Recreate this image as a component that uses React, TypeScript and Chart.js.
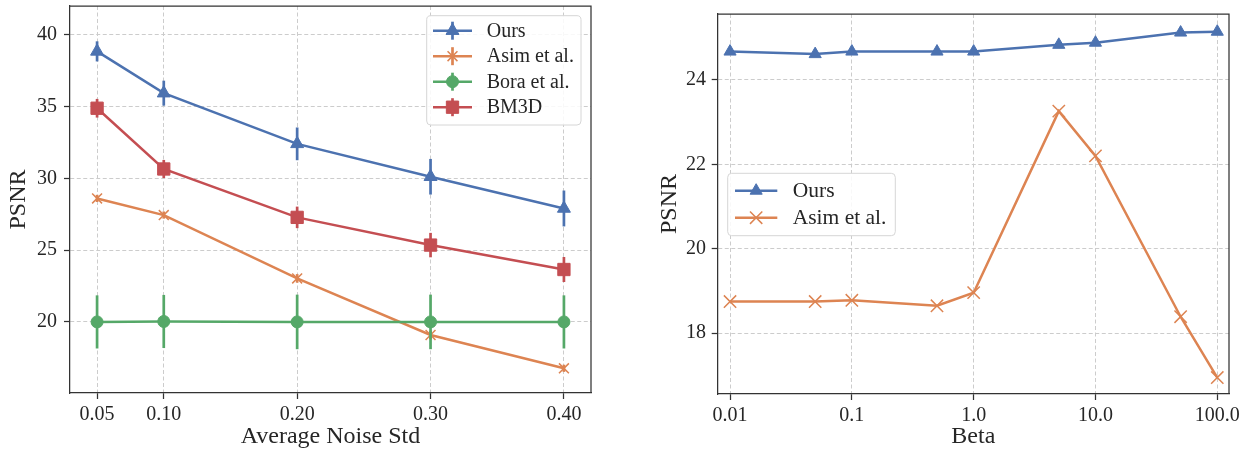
import React, { useEffect, useRef } from 'react';
import { Chart, registerables } from 'chart.js';

Chart.register(...registerables);

// ---------- Data: left panel (PSNR vs average noise std) ----------
const noiseStd = [0.05, 0.1, 0.2, 0.3, 0.4];
const oursPsnr = [38.84, 35.93, 32.4, 30.11, 27.9];
const oursErr = [0.7, 0.87, 1.14, 1.24, 1.25];
const asimPsnr = [28.6, 27.44, 23.03, 19.09, 16.77];
const asimErr = [0.25, 0.25, 0.3, 0.3, 0.25];
const boraPsnr = [20.0, 20.03, 20.0, 20.0, 20.0];
const boraErr = [1.85, 1.85, 1.9, 1.9, 1.85];
const bm3dPsnr = [34.88, 30.65, 27.28, 25.35, 23.65];
const bm3dErr = [0.65, 0.63, 0.75, 0.85, 0.87];
const noiseTicks = [0.05, 0.1, 0.2, 0.3, 0.4];
const noiseTickLabels = ['0.05', '0.10', '0.20', '0.30', '0.40'];
const psnrTicksLeft = [20, 25, 30, 35, 40];

// ---------- Data: right panel (PSNR vs beta) ----------
const betas = [0.01, 0.05, 0.1, 0.5, 1, 5, 10, 50, 100];
const oursBeta = [24.67, 24.61, 24.67, 24.67, 24.67, 24.83, 24.88, 25.12, 25.14];
const asimBeta = [18.75, 18.75, 18.78, 18.65, 18.96, 23.26, 22.2, 18.39, 16.95];
const betaTicks = [0.01, 0.1, 1, 10, 100];
const betaTickLabels = ['0.01', '0.1', '1.0', '10.0', '100.0'];
const psnrTicksRight = [18, 20, 22, 24];

const seriesNames = ['Ours', 'Asim et al.', 'Bora et al.', 'BM3D'];

// ---------- Styles ----------
const BLUE = '#4C72B0';
const ORANGE = '#DD8452';
const GREEN = '#55A868';
const RED = '#C44E52';
const TEXT = '#262626';
const SPINE = '#333333';
const GRID = '#cccccc';
const FONT = "'Liberation Serif', 'DejaVu Serif', serif";
const LINE_W = 2.5;
const ERR_W = 2.7;

Chart.defaults.font.family = FONT;
Chart.defaults.color = TEXT;

type Marker = 'triangle' | 'crossRot' | 'circle' | 'rect';

function drawMarker(ctx: CanvasRenderingContext2D, kind: Marker, x: number, y: number, r: number, color: string, lw: number) {
  ctx.save();
  ctx.fillStyle = color;
  ctx.strokeStyle = color;
  ctx.lineWidth = lw;
  ctx.beginPath();
  if (kind === 'triangle') {
    for (let k = 0; k < 3; k++) {
      const a = (k * 2 * Math.PI) / 3;
      const px = x + Math.sin(a) * r;
      const py = y - Math.cos(a) * r;
      if (k === 0) ctx.moveTo(px, py);
      else ctx.lineTo(px, py);
    }
    ctx.closePath();
    ctx.fill();
    ctx.stroke();
  } else if (kind === 'circle') {
    ctx.arc(x, y, r, 0, Math.PI * 2);
    ctx.fill();
    ctx.stroke();
  } else if (kind === 'rect') {
    const s = r * Math.SQRT1_2;
    ctx.rect(x - s, y - s, 2 * s, 2 * s);
    ctx.fill();
    ctx.stroke();
  } else {
    const o = r * Math.SQRT1_2;
    ctx.moveTo(x - o, y - o);
    ctx.lineTo(x + o, y + o);
    ctx.moveTo(x - o, y + o);
    ctx.lineTo(x + o, y - o);
    ctx.stroke();
  }
  ctx.restore();
}

// error bars drawn just before each dataset
const errorBarPlugin = {
  id: 'errorBars',
  beforeDatasetDraw(chart: any, args: any) {
    const ds = chart.data.datasets[args.index];
    const errs: number[] | undefined = ds.errors;
    if (!errs) return;
    const { ctx, chartArea } = chart;
    const xs = chart.scales.x;
    const ys = chart.scales.y;
    ctx.save();
    ctx.beginPath();
    ctx.rect(chartArea.left, chartArea.top, chartArea.right - chartArea.left, chartArea.bottom - chartArea.top);
    ctx.clip();
    ctx.strokeStyle = ds.borderColor;
    ctx.lineWidth = ERR_W;
    ds.data.forEach((p: any, i: number) => {
      const px = xs.getPixelForValue(p.x);
      ctx.beginPath();
      ctx.moveTo(px, ys.getPixelForValue(p.y - errs[i]));
      ctx.lineTo(px, ys.getPixelForValue(p.y + errs[i]));
      ctx.stroke();
    });
    ctx.restore();
  },
};

// top/right spines
const framePlugin = {
  id: 'frame',
  afterDatasetsDraw(chart: any) {
    const { ctx, chartArea: a } = chart;
    ctx.save();
    ctx.strokeStyle = SPINE;
    ctx.lineWidth = 1.25;
    ctx.beginPath();
    ctx.moveTo(a.left, a.top);
    ctx.lineTo(a.right, a.top);
    ctx.lineTo(a.right, a.bottom);
    ctx.stroke();
    ctx.restore();
  },
};

interface LegendCfg {
  box: [number, number, number, number];
  firstRow: number;
  rowStep: number;
  lineX: [number, number];
  textX: number;
  fontSize: number;
  errBar: boolean;
  items: { label: string; color: string; marker: Marker; r: number; lw: number }[];
}

function makeLegend(cfg: LegendCfg) {
  return {
    id: 'customLegend',
    afterDraw(chart: any) {
      const ctx: CanvasRenderingContext2D = chart.ctx;
      const [bx, by, bw, bh] = cfg.box;
      ctx.save();
      ctx.beginPath();
      (ctx as any).roundRect(bx, by, bw, bh, 4);
      ctx.fillStyle = 'rgba(255,255,255,0.85)';
      ctx.fill();
      ctx.strokeStyle = '#d6d6d6';
      ctx.lineWidth = 1;
      ctx.stroke();
      cfg.items.forEach((it, i) => {
        const y = by + cfg.firstRow + i * cfg.rowStep;
        const [x0, x1] = cfg.lineX;
        const mx = (x0 + x1) / 2;
        ctx.strokeStyle = it.color;
        ctx.lineWidth = LINE_W;
        ctx.beginPath();
        ctx.moveTo(bx + x0, y);
        ctx.lineTo(bx + x1, y);
        ctx.stroke();
        if (cfg.errBar) {
          ctx.lineWidth = ERR_W;
          ctx.beginPath();
          ctx.moveTo(bx + mx, y - 9);
          ctx.lineTo(bx + mx, y + 9);
          ctx.stroke();
        }
        drawMarker(ctx, it.marker, bx + mx, y, it.r, it.color, it.lw);
        ctx.fillStyle = TEXT;
        ctx.font = `${cfg.fontSize}px ${FONT}`;
        ctx.textBaseline = 'middle';
        ctx.textAlign = 'left';
        ctx.fillText(it.label, bx + cfg.textX, y + 1);
      });
      ctx.restore();
    },
  };
}

function axisCommon(tickPad: number) {
  return {
    grid: { color: GRID, lineWidth: 1, tickLength: 6, tickColor: SPINE, tickWidth: 1.25 },
    border: { color: SPINE, width: 1.25, dash: [4, 2.5] },
    ticks: { font: { size: 20, lineHeight: 1.2 }, color: TEXT, padding: tickPad, autoSkip: false, maxRotation: 0, minRotation: 0 },
  };
}

const titleFont = { size: 24, lineHeight: 1 };

function leftConfig(): any {
  const mk = (label: string, ys: number[], errs: number[], color: string, style: string, r: number, bw: number, i: number) => ({
    label,
    data: noiseStd.map((x, k) => ({ x, y: ys[k] })),
    errors: errs,
    borderColor: color,
    backgroundColor: color,
    pointBackgroundColor: color,
    pointBorderColor: color,
    pointStyle: style,
    pointRadius: r,
    pointBorderWidth: bw,
    borderWidth: LINE_W,
    tension: 0,
    order: -i,
  });
  return {
    type: 'line',
    data: {
      datasets: [
        mk(seriesNames[0], oursPsnr, oursErr, BLUE, 'triangle', 7.5, 1, 0),
        mk(seriesNames[1], asimPsnr, asimErr, ORANGE, 'crossRot', 7, 1.5, 1),
        mk(seriesNames[2], boraPsnr, boraErr, GREEN, 'circle', 6, 1, 2),
        mk(seriesNames[3], bm3dPsnr, bm3dErr, RED, 'rect', 8.7, 1, 3),
      ],
    },
    options: {
      animation: false,
      responsive: false,
      events: [],
      layout: { autoPadding: false, padding: { left: 0, right: 29, top: 6, bottom: 0 } },
      plugins: { legend: { display: false }, tooltip: { enabled: false } },
      scales: {
        x: {
          type: 'linear',
          min: 0.0297,
          max: 0.4203,
          ...axisCommon(4),
          ticks: { ...axisCommon(4).ticks, callback: (_v: any, i: number) => noiseTickLabels[i] },
          afterBuildTicks: (s: any) => { s.ticks = noiseTicks.map((v) => ({ value: v })); },
          afterFit: (s: any) => { s.height = 57; s.paddingLeft = 0; s.paddingRight = 0; },
          title: { display: true, text: 'Average Noise Std', font: titleFont, color: TEXT, padding: { top: 0, bottom: 1 } },
        },
        y: {
          type: 'linear',
          min: 15.05,
          max: 42.0,
          ...axisCommon(7),
          ticks: { ...axisCommon(7).ticks, callback: (v: any) => String(v) },
          afterBuildTicks: (s: any) => { s.ticks = psnrTicksLeft.map((v) => ({ value: v })); },
          afterFit: (s: any) => { s.width = 70; s.paddingTop = 0; s.paddingBottom = 0; },
          title: { display: true, text: 'PSNR', font: titleFont, color: TEXT, padding: { top: 6.5, bottom: 0 } },
        },
      },
    },
    plugins: [
      errorBarPlugin,
      framePlugin,
      makeLegend({
        box: [426.7, 15.7, 154.3, 109.3],
        firstRow: 15,
        rowStep: 25.5,
        lineX: [6.3, 45.3],
        textX: 60,
        fontSize: 20,
        errBar: true,
        items: [
          { label: seriesNames[0], color: BLUE, marker: 'triangle', r: 7.5, lw: 1 },
          { label: seriesNames[1], color: ORANGE, marker: 'crossRot', r: 7, lw: 1.5 },
          { label: seriesNames[2], color: GREEN, marker: 'circle', r: 6, lw: 1 },
          { label: seriesNames[3], color: RED, marker: 'rect', r: 8.7, lw: 1 },
        ],
      }),
    ],
  };
}

function rightConfig(): any {
  const mk = (label: string, ys: number[], color: string, style: string, r: number, bw: number, i: number) => ({
    label,
    data: betas.map((x, k) => ({ x, y: ys[k] })),
    borderColor: color,
    backgroundColor: color,
    pointBackgroundColor: color,
    pointBorderColor: color,
    pointStyle: style,
    pointRadius: r,
    pointBorderWidth: bw,
    borderWidth: LINE_W,
    tension: 0,
    order: -i,
  });
  return {
    type: 'line',
    data: {
      datasets: [
        mk(seriesNames[0], oursBeta, BLUE, 'triangle', 7, 1, 0),
        mk(seriesNames[1], asimBeta, ORANGE, 'crossRot', 8.7, 1.5, 1),
      ],
    },
    options: {
      animation: false,
      responsive: false,
      events: [],
      layout: { autoPadding: false, padding: { left: 0, right: 14, top: 14, bottom: 0 } },
      plugins: { legend: { display: false }, tooltip: { enabled: false } },
      scales: {
        x: {
          type: 'logarithmic',
          min: 0.00792,
          max: 124.8,
          ...axisCommon(4),
          ticks: { ...axisCommon(4).ticks, callback: (_v: any, i: number) => betaTickLabels[i] },
          afterBuildTicks: (s: any) => { s.ticks = betaTicks.map((v) => ({ value: v })); },
          afterFit: (s: any) => { s.height = 56; s.paddingLeft = 0; s.paddingRight = 0; },
          title: { display: true, text: 'Beta', font: titleFont, color: TEXT, padding: { top: 0, bottom: 1 } },
        },
        y: {
          type: 'linear',
          min: 16.56,
          max: 25.56,
          ...axisCommon(5.7),
          ticks: { ...axisCommon(5.7).ticks, callback: (v: any) => String(v) },
          afterBuildTicks: (s: any) => { s.ticks = psnrTicksRight.map((v) => ({ value: v })); },
          afterFit: (s: any) => { s.width = 97.7; s.paddingTop = 0; s.paddingBottom = 0; },
          title: { display: true, text: 'PSNR', font: titleFont, color: TEXT, padding: { top: 37.5, bottom: 0 } },
        },
      },
    },
    plugins: [
      framePlugin,
      makeLegend({
        box: [107.7, 173.3, 167.6, 62.4],
        firstRow: 17.4,
        rowStep: 27,
        lineX: [7.3, 49.6],
        textX: 65,
        fontSize: 21.5,
        errBar: false,
        items: [
          { label: seriesNames[0], color: BLUE, marker: 'triangle', r: 7, lw: 1 },
          { label: seriesNames[1], color: ORANGE, marker: 'crossRot', r: 8.7, lw: 1.5 },
        ],
      }),
    ],
  };
}

function ChartCanvas({ build, left, width }: { build: () => any; left: number; width: number }) {
  const ref = useRef<HTMLCanvasElement>(null);
  useEffect(() => {
    const chart = new Chart(ref.current as HTMLCanvasElement, build());
    return () => chart.destroy();
  }, []);
  return (
    <canvas
      ref={ref}
      width={width}
      height={450}
      style={{ position: 'absolute', left, top: 0, width, height: 450 }}
    />
  );
}

export default function App() {
  return (
    <div style={{ position: 'absolute', left: 0, top: 0, width: 1243, height: 450, background: '#fff' }}>
      <ChartCanvas build={leftConfig} left={0} width={620} />
      <ChartCanvas build={rightConfig} left={620} width={623} />
    </div>
  );
}
